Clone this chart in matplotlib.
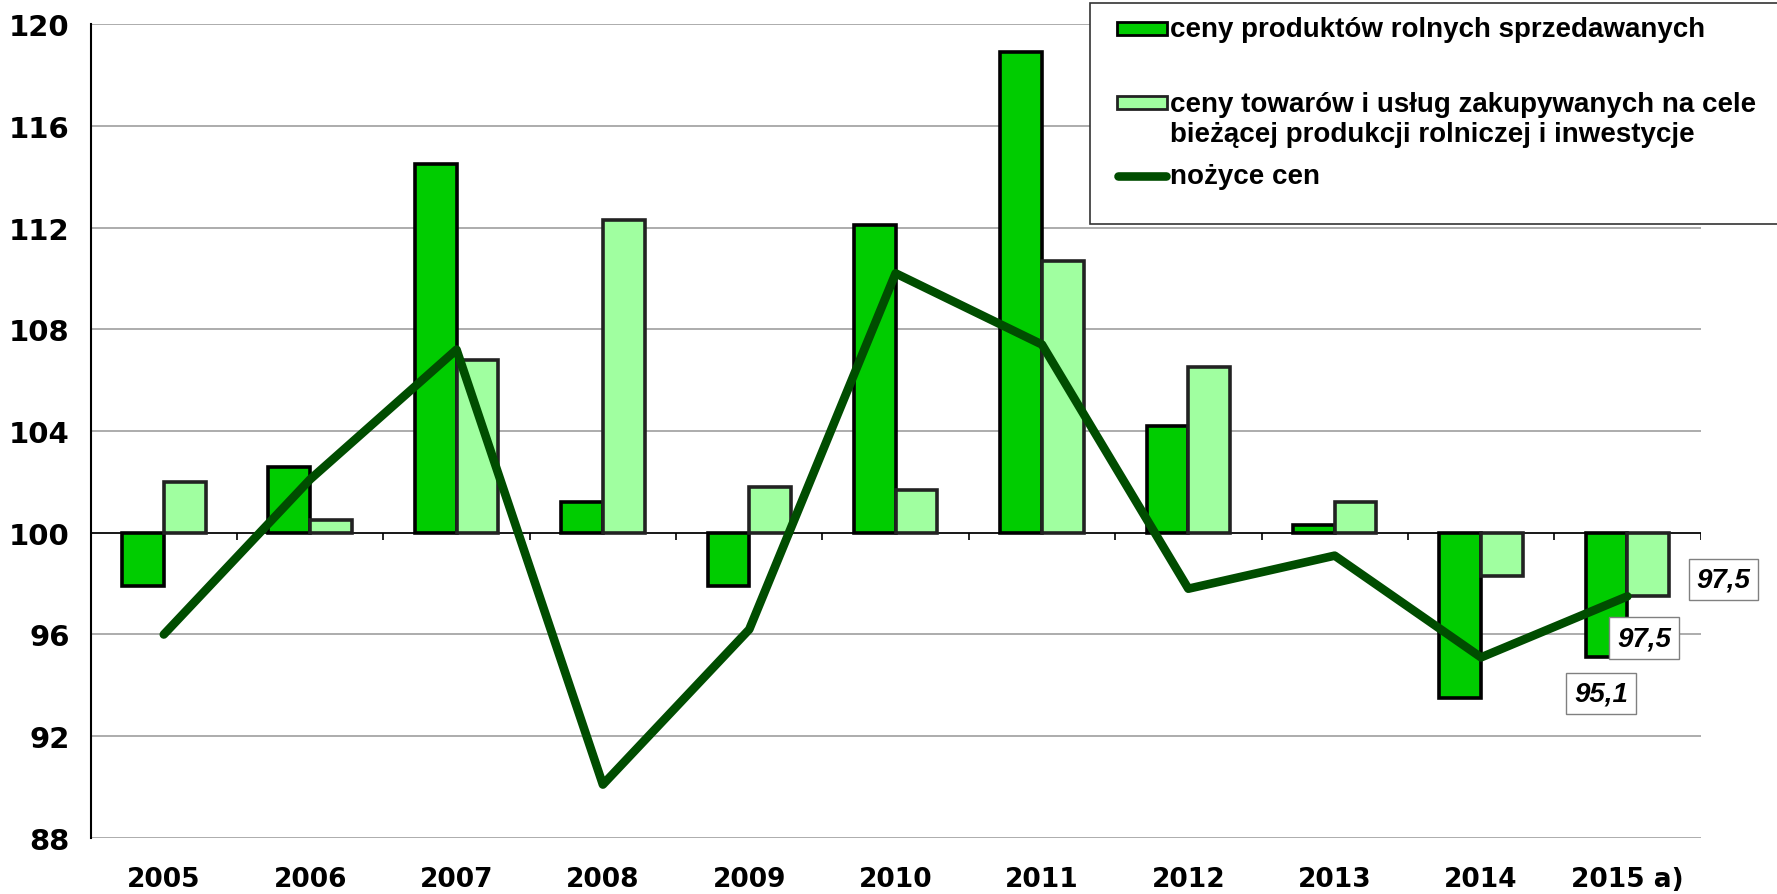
import numpy as np
import matplotlib
matplotlib.use("Agg")
import matplotlib.pyplot as plt
from matplotlib.patches import Rectangle
from matplotlib.lines import Line2D

years = ["2005", "2006", "2007", "2008", "2009", "2010", "2011", "2012", "2013", "2014", "2015 a)"]
sold = [97.9, 102.6, 114.5, 101.2, 97.9, 112.1, 118.9, 104.2, 100.3, 93.5, 95.1]
bought = [102.0, 100.5, 106.8, 112.3, 101.8, 101.7, 110.7, 106.5, 101.2, 98.3, 97.5]
scissors = [96.0, 102.1, 107.2, 90.1, 96.2, 110.2, 107.4, 97.8, 99.1, 95.1, 97.5]

label_sold = "ceny produktów rolnych sprzedawanych"
label_bought = "ceny towarów i usług zakupywanych na cele\nbieżącej produkcji rolniczej i inwestycje"
label_line = "nożyce cen"

dark = "#00cc00"
light = "#a0ffa0"
line_col = "#004d00"

fig = plt.figure(figsize=(17.77, 8.95), dpi=100)
ax = fig.add_axes([0.051, 0.0626, 0.906, 0.9094])

x = np.arange(len(years))
w = 0.285
base = 100

ax.bar(x - w / 2, np.array(sold) - base, w, bottom=base, color=dark,
       edgecolor="black", linewidth=2.6, zorder=3)
ax.bar(x + w / 2, np.array(bought) - base, w, bottom=base, color=light,
       edgecolor="#222222", linewidth=2.6, zorder=3)
ax.plot(x, scissors, color=line_col, linewidth=6.2, solid_capstyle="round", zorder=4)

# x axis line at 100 with small ticks between categories
ax.axhline(base, color="black", linewidth=1.2, zorder=2)
ax.vlines(x + 0.5, base - 0.3, base, color="black", linewidth=1.2, zorder=2)

ax.set_xlim(-0.5, len(years) - 0.5)
ax.set_ylim(88, 120)
ax.set_yticks(np.arange(88, 121, 4))
ax.yaxis.grid(True, color="#a6a6a6", linewidth=1.3, zorder=0)
ax.set_axisbelow(True)
for s in ["top", "right", "bottom"]:
    ax.spines[s].set_visible(False)
ax.spines["left"].set_linewidth(1.5)
ax.tick_params(axis="y", length=0, pad=15, labelsize=21)
ax.tick_params(axis="x", length=0, pad=20, labelsize=19)
ax.set_xticks(x)
ax.set_xticklabels(years)
for t in ax.get_xticklabels() + ax.get_yticklabels():
    t.set_fontweight("bold")
    t.set_family("DejaVu Sans")

# value labels for the last year
box = dict(boxstyle="square,pad=0.28", facecolor="white", edgecolor="#808080", linewidth=1)
lab_font = dict(fontsize=20, fontweight="bold", fontstyle="italic", family="Liberation Sans",
                ha="center", va="center", zorder=6)
i = len(years) - 1
ax.annotate(f"{bought[i]:.1f}".replace(".", ","), (x[i], bought[i]), xytext=(69, 12),
            textcoords="offset points", bbox=box, **lab_font)
ax.annotate(f"{scissors[i]:.1f}".replace(".", ","), (x[i], scissors[i]), xytext=(12, -30),
            textcoords="offset points", bbox=box, **lab_font)
ax.annotate(f"{sold[i]:.1f}".replace(".", ","), (x[i], sold[i]), xytext=(-19, -26),
            textcoords="offset points", bbox=box, **lab_font)

# legend drawn by hand
W, H = 1777, 895
def fx(px):
    return px / W
def fy(py):
    return 1 - py / H

fig.add_artist(Rectangle((fx(1090), fy(225)), fx(700), 221 / H, transform=fig.transFigure,
                         facecolor="white", edgecolor="#333333", linewidth=1.2, zorder=10))
leg_font = dict(fontsize=20, fontweight="bold", family="Liberation Sans", va="center",
                ha="left", transform=fig.transFigure, zorder=11)
fig.add_artist(Rectangle((fx(1117), fy(36)), fx(50), 13 / H, transform=fig.transFigure,
                         facecolor=dark, edgecolor="black", linewidth=2, zorder=11))
fig.text(fx(1170), fy(30), label_sold, **leg_font)
fig.add_artist(Rectangle((fx(1117), fy(110)), fx(50), 13 / H, transform=fig.transFigure,
                         facecolor=light, edgecolor="#222222", linewidth=2, zorder=11))
fig.text(fx(1170), fy(120), label_bought, linespacing=1.2, **leg_font)
fig.add_artist(Line2D([fx(1118), fx(1166)], [fy(177), fy(177)], transform=fig.transFigure,
                      color=line_col, linewidth=6.2, solid_capstyle="round", zorder=11))
fig.text(fx(1170), fy(177), label_line, **leg_font)

fig.savefig("out.png", dpi=100, facecolor="white")
